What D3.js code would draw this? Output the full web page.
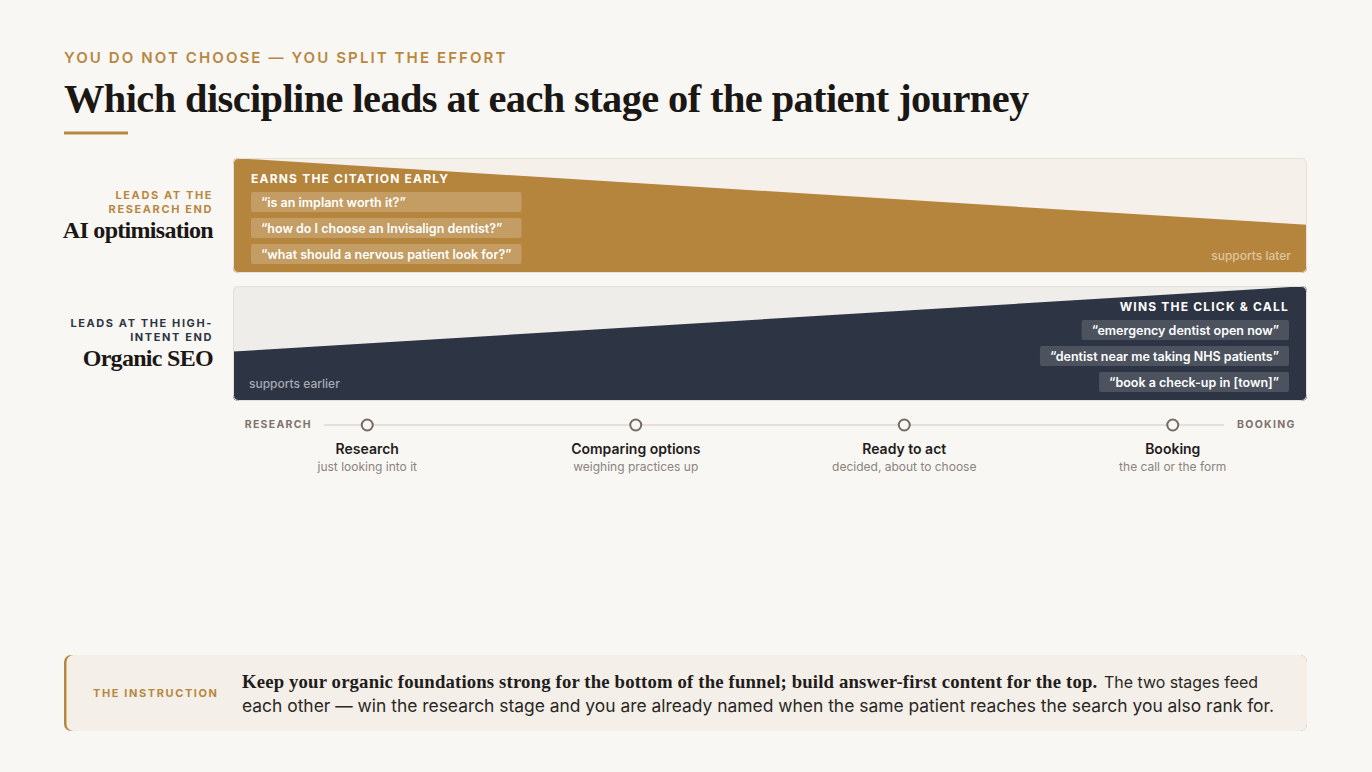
<!DOCTYPE html>
<html>
<head>
<meta charset="utf-8">
<script src="https://cdn.jsdelivr.net/npm/d3@7"></script>
<style>
  html, body { margin: 0; padding: 0; background: #f9f7f4; }
  svg { display: block; }
  .sans { font-family: Inter, "Noto Sans", sans-serif; }
  .serif { font-family: "Liberation Serif", "DejaVu Serif", serif; }
</style>
</head>
<body>
<script>
const width = 1372;
const height = 772;

// Journey stages along the bottom axis
const stages = ['Research', 'Comparing options', 'Ready to act', 'Booking'];
const stageNotes = ['just looking into it', 'weighing practices up', 'decided, about to choose', 'the call or the form'];
const axisEnds = ['RESEARCH', 'BOOKING'];

// Share of each band filled at the research end (0) and the booking end (1)
const journeyPos = [0, 1];
const aiShare = [1.0, 0.42];
const seoShare = [0.43, 1.0];

// Example queries in each band
const aiQueries = ['\u201cis an implant worth it?\u201d', '\u201chow do I choose an Invisalign dentist?\u201d', '\u201cwhat should a nervous patient look for?\u201d'];
const seoQueries = ['\u201cemergency dentist open now\u201d', '\u201cdentist near me taking NHS patients\u201d', '\u201cbook a check-up in [town]\u201d'];

const gold = '#b5853e';
const navy = '#2d3544';

const svg = d3.select('body')
  .append('svg')
  .attr('width', width)
  .attr('height', height);

// squeeze or stretch a text to the width it has in the design
function fitWidth(sel, target, size) {
  const w = sel.node().getComputedTextLength();
  sel.style('font-size', (size * target / w).toFixed(2) + 'px');
}

// Header
svg.append('text')
  .attr('class', 'sans')
  .attr('x', 64)
  .attr('y', 63)
  .attr('fill', '#b8873f')
  .style('font-size', '15px')
  .style('font-weight', 600)
  .style('letter-spacing', '2.1px')
  .text('YOU DO NOT CHOOSE \u2014 YOU SPLIT THE EFFORT');

const title = svg.append('text')
  .attr('class', 'serif')
  .attr('x', 64)
  .attr('y', 112)
  .attr('fill', '#1b1715')
  .style('font-size', '42px')
  .style('font-weight', 700)
  .style('letter-spacing', '-0.6px')
  .text('Which discipline leads at each stage of the patient journey');
fitWidth(title, 966, 42);

svg.append('rect')
  .attr('x', 64)
  .attr('y', 131.5)
  .attr('width', 64)
  .attr('height', 3)
  .attr('fill', '#b8873f');

// Shared x scale across the bands
const bandX0 = 233;
const bandX1 = 1307;
const xJourney = d3.scaleLinear().domain([0, 1]).range([bandX0, bandX1]);
const xStage = d3.scaleBand().domain(stages).range([bandX0, bandX1]);

const defs = svg.append('defs');

function drawBand(cfg) {
  const g = svg.append('g');
  const yShare = d3.scaleLinear().domain([0, 1]).range([cfg.y1, cfg.y0]);

  defs.append('clipPath')
    .attr('id', cfg.id)
    .append('rect')
    .attr('x', bandX0)
    .attr('y', cfg.y0)
    .attr('width', bandX1 - bandX0)
    .attr('height', cfg.y1 - cfg.y0)
    .attr('rx', 5);

  g.append('rect')
    .attr('x', bandX0)
    .attr('y', cfg.y0)
    .attr('width', bandX1 - bandX0)
    .attr('height', cfg.y1 - cfg.y0)
    .attr('rx', 5)
    .attr('fill', cfg.bg);

  const area = d3.area()
    .x(d => xJourney(d.pos))
    .y0(cfg.y1)
    .y1(d => yShare(d.share));

  g.append('path')
    .datum(journeyPos.map((p, i) => ({ pos: p, share: cfg.share[i] })))
    .attr('clip-path', `url(#${cfg.id})`)
    .attr('fill', cfg.color)
    .attr('d', area);

  g.append('rect')
    .attr('x', bandX0 + 0.5)
    .attr('y', cfg.y0 + 0.5)
    .attr('width', bandX1 - bandX0 - 1)
    .attr('height', cfg.y1 - cfg.y0 - 1)
    .attr('rx', 5)
    .attr('fill', 'none')
    .attr('stroke', cfg.border);

  // heading inside band
  const right = cfg.align === 'right';
  const hx = right ? bandX1 - 18 : bandX0 + 18;
  g.append('text')
    .attr('class', 'sans')
    .attr('x', hx)
    .attr('y', cfg.y0 + 25)
    .attr('text-anchor', right ? 'end' : 'start')
    .attr('fill', '#fff')
    .style('font-size', '12px')
    .style('font-weight', 700)
    .style('letter-spacing', '1.2px')
    .text(cfg.heading);

  // query chips
  const chips = g.selectAll('.chip')
    .data(cfg.queries)
    .enter()
    .append('g')
    .attr('class', 'chip');

  const labels = chips.append('text')
    .attr('class', 'sans')
    .attr('y', (d, i) => cfg.y0 + 49 + i * 26)
    .attr('fill', '#fff')
    .style('font-size', '12.5px')
    .style('font-weight', 600)
    .text(d => d);

  const widths = labels.nodes().map(n => n.getComputedTextLength() + 20);
  const maxW = d3.max(widths);

  chips.insert('rect', 'text')
    .attr('x', (d, i) => right ? hx - widths[i] : hx)
    .attr('y', (d, i) => cfg.y0 + 34 + i * 26)
    .attr('width', (d, i) => right ? widths[i] : maxW)
    .attr('height', 20)
    .attr('rx', 2)
    .attr('fill', cfg.chip);

  labels.attr('x', (d, i) => right ? hx - widths[i] + 10 : hx + 10);

  // supporting note
  g.append('text')
    .attr('class', 'sans')
    .attr('x', right ? bandX0 + 16 : bandX1 - 16)
    .attr('y', cfg.y1 - 13)
    .attr('text-anchor', right ? 'start' : 'end')
    .attr('fill', cfg.noteColor)
    .style('font-size', '12px')
    .style('font-weight', 500)
    .text(cfg.note);

  // left-side label
  cfg.kicker.forEach((line, i) => {
    svg.append('text')
      .attr('class', 'sans')
      .attr('x', 213)
      .attr('y', cfg.y0 + 41 + i * 14)
      .attr('text-anchor', 'end')
      .attr('fill', cfg.kickerColor)
      .style('font-size', '11px')
      .style('font-weight', 700)
      .style('letter-spacing', '1.6px')
      .text(line);
  });
  svg.append('text')
    .attr('class', 'serif')
    .attr('x', 213)
    .attr('y', cfg.y0 + 80)
    .attr('text-anchor', 'end')
    .attr('fill', '#1b1715')
    .style('font-size', '24px')
    .style('font-weight', 700)
    .style('letter-spacing', '-0.7px')
    .text(cfg.name);
}

drawBand({
  id: 'clip-ai', y0: 158, y1: 273,
  bg: '#f5f0ea', border: '#e7e1d8', color: gold,
  share: aiShare, align: 'left',
  heading: 'EARNS THE CITATION EARLY', queries: aiQueries,
  chip: 'rgba(255,255,255,0.2)',
  note: 'supports later', noteColor: '#ddc59c',
  kicker: ['LEADS AT THE', 'RESEARCH END'], kickerColor: '#b8873f',
  name: 'AI optimisation'
});

drawBand({
  id: 'clip-seo', y0: 286, y1: 401,
  bg: '#efedea', border: '#e3e0dc', color: navy,
  share: seoShare, align: 'right',
  heading: 'WINS THE CLICK & CALL', queries: seoQueries,
  chip: 'rgba(255,255,255,0.15)',
  note: 'supports earlier', noteColor: '#a6aab2',
  kicker: ['LEADS AT THE HIGH-', 'INTENT END'], kickerColor: navy,
  name: 'Organic SEO'
});

// Journey axis
const axisY = 425;
svg.append('line')
  .attr('x1', 324)
  .attr('x2', 1224)
  .attr('y1', axisY)
  .attr('y2', axisY)
  .attr('stroke', '#e6e0da')
  .attr('stroke-width', 2);

svg.selectAll('.axis-end')
  .data(axisEnds)
  .enter()
  .append('text')
  .attr('class', 'sans axis-end')
  .attr('x', (d, i) => i === 0 ? 312 : 1237)
  .attr('y', axisY + 3)
  .attr('text-anchor', (d, i) => i === 0 ? 'end' : 'start')
  .attr('fill', '#7d726d')
  .style('font-size', '10.5px')
  .style('font-weight', 700)
  .style('letter-spacing', '1.3px')
  .text(d => d);

const stageG = svg.selectAll('.stage')
  .data(stages)
  .enter()
  .append('g')
  .attr('class', 'stage')
  .attr('transform', d => `translate(${xStage(d) + xStage.bandwidth() / 2},0)`);

stageG.append('circle')
  .attr('cy', axisY)
  .attr('r', 5.5)
  .attr('fill', '#f9f7f4')
  .attr('stroke', '#766a65')
  .attr('stroke-width', 2);

stageG.append('text')
  .attr('class', 'sans')
  .attr('y', 454)
  .attr('text-anchor', 'middle')
  .attr('fill', '#1f1d1c')
  .style('font-size', '14px')
  .style('font-weight', 600)
  .text(d => d);

stageG.append('text')
  .attr('class', 'sans')
  .attr('y', 471)
  .attr('text-anchor', 'middle')
  .attr('fill', '#8a837e')
  .style('font-size', '12px')
  .text((d, i) => stageNotes[i]);

// Instruction box
svg.append('rect')
  .attr('x', 64)
  .attr('y', 655)
  .attr('width', 1243)
  .attr('height', 76)
  .attr('rx', 7)
  .attr('fill', '#b8873f');
svg.append('rect')
  .attr('x', 66.5)
  .attr('y', 655)
  .attr('width', 1240.5)
  .attr('height', 76)
  .attr('rx', 7)
  .attr('fill', '#f4efe9');

svg.append('text')
  .attr('class', 'sans')
  .attr('x', 93)
  .attr('y', 697)
  .attr('fill', '#b8873f')
  .style('font-size', '11px')
  .style('font-weight', 700)
  .style('letter-spacing', '1.6px')
  .text('THE INSTRUCTION');

const bodyLead = svg.append('text')
  .attr('class', 'serif')
  .attr('x', 242)
  .attr('y', 688)
  .attr('fill', '#1f1d1c')
  .style('font-size', '18px')
  .style('font-weight', 700)
  .style('letter-spacing', '0.15px')
  .text('Keep your organic foundations strong for the bottom of the funnel; build answer-first content for the top.');
fitWidth(bodyLead, 856, 18);

const bodyRest1 = svg.append('text')
  .attr('class', 'sans')
  .attr('x', 1104)
  .attr('y', 688)
  .attr('fill', '#2a2725')
  .style('font-size', '16px')
  .text('The two stages feed');
fitWidth(bodyRest1, 154, 16);

const bodyRest2 = svg.append('text')
  .attr('class', 'sans')
  .attr('x', 242)
  .attr('y', 712)
  .attr('fill', '#2a2725')
  .style('font-size', '16px')
  .text('each other \u2014 win the research stage and you are already named when the same patient reaches the search you also rank for.');
fitWidth(bodyRest2, 1032, 16);
</script>
</body>
</html>
